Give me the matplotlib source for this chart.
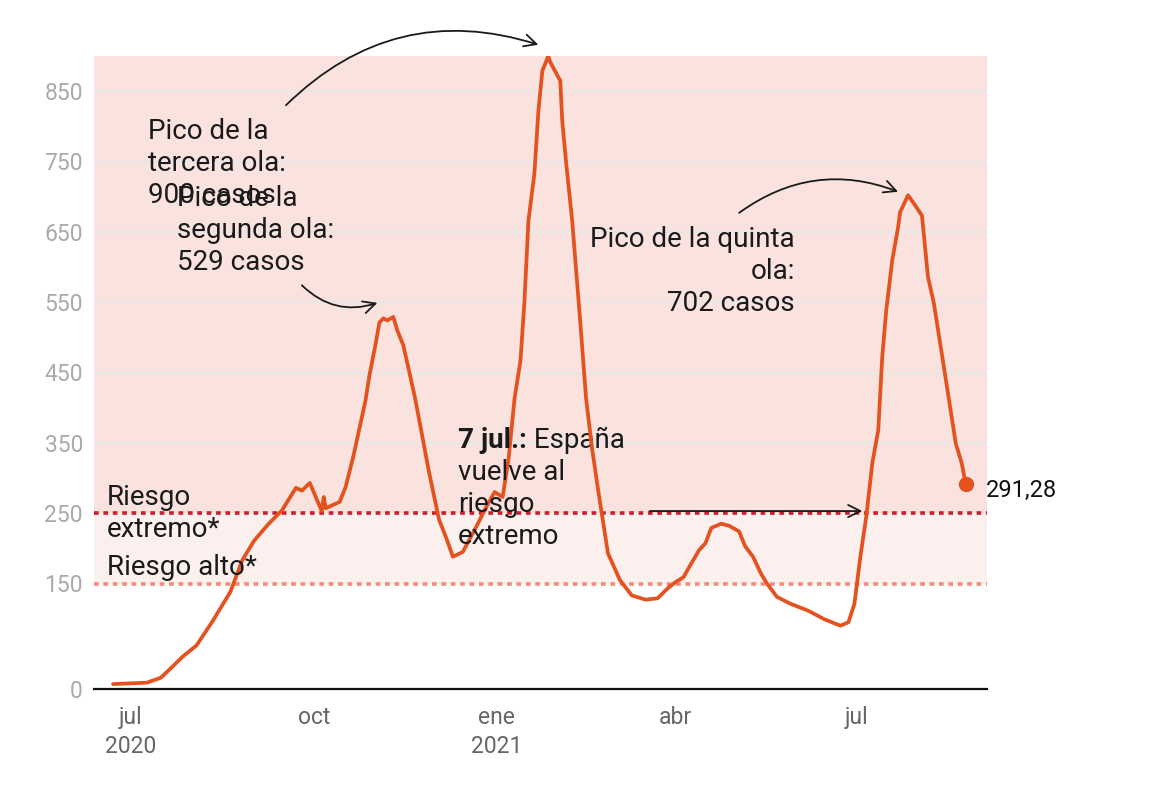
import pandas as pd
import matplotlib.pyplot as plt
import matplotlib.dates as mdates

plt.rcParams['font.family'] = ['Roboto', 'DejaVu Sans']

W, H = 1150, 796

# incidencia acumulada a 14 días (casos por 100.000 hab.)
fechas = [
    '2020-06-22', '2020-07-09', '2020-07-16', '2020-07-22', '2020-07-27', '2020-08-03',
    '2020-08-11', '2020-08-20', '2020-08-26', '2020-09-01', '2020-09-08', '2020-09-15',
    '2020-09-22', '2020-09-25', '2020-09-29', '2020-10-02', '2020-10-05', '2020-10-06',
    '2020-10-07', '2020-10-14', '2020-10-17', '2020-10-21', '2020-10-27', '2020-10-29',
    '2020-11-01', '2020-11-03', '2020-11-05', '2020-11-07', '2020-11-10', '2020-11-12',
    '2020-11-15', '2020-11-17', '2020-11-21', '2020-11-28', '2020-12-03', '2020-12-07',
    '2020-12-10', '2020-12-15', '2020-12-22', '2020-12-27', '2020-12-31', '2021-01-04',
    '2021-01-07', '2021-01-10', '2021-01-13', '2021-01-15', '2021-01-17', '2021-01-20',
    '2021-01-22', '2021-01-24', '2021-01-26', '2021-01-27', '2021-01-28', '2021-02-02',
    '2021-02-03', '2021-02-05', '2021-02-08', '2021-02-12', '2021-02-15', '2021-02-18',
    '2021-02-21', '2021-02-26', '2021-03-04', '2021-03-10', '2021-03-17', '2021-03-23',
    '2021-03-28', '2021-04-01', '2021-04-05', '2021-04-09', '2021-04-13', '2021-04-16',
    '2021-04-19', '2021-04-24', '2021-04-28', '2021-05-03', '2021-05-06', '2021-05-10',
    '2021-05-14', '2021-05-17', '2021-05-22', '2021-05-29', '2021-06-07', '2021-06-15',
    '2021-06-23', '2021-06-27', '2021-06-30', '2021-07-03', '2021-07-06', '2021-07-09',
    '2021-07-12', '2021-07-14', '2021-07-16', '2021-07-19', '2021-07-22', '2021-07-23',
    '2021-07-27', '2021-07-30', '2021-08-03', '2021-08-06', '2021-08-09', '2021-08-14',
    '2021-08-20', '2021-08-23', '2021-08-25',
]
casos = [
    7, 9, 16, 32, 46, 62,
    96, 138, 183, 211, 234, 254,
    286, 282, 293, 273, 253, 273,
    257, 266, 287, 332, 410, 446,
    489, 521, 527, 524, 529, 510,
    489, 464, 413, 308, 241, 212,
    188, 195, 232, 260, 280, 273,
    327, 413, 467, 552, 666, 733,
    822, 879, 893, 900, 891, 865,
    808, 747, 666, 524, 413, 342,
    284, 193, 155, 133, 127, 129,
    143, 152, 159, 179, 198, 207,
    229, 235, 232, 224, 203, 188,
    164, 150, 131, 121, 111, 99,
    90, 95, 121, 188, 246, 321,
    368, 472, 538, 609, 657, 678,
    702, 690, 673, 586, 548, 458,
    349, 321, 291.28,
]
ultimo = '291,28'

ticks_x = ['2020-07-01', '2020-10-01', '2021-01-01', '2021-04-01', '2021-07-01']
etiquetas_x = ['jul\n2020', 'oct', 'ene\n2021', 'abr', 'jul']
ticks_y = [0, 150, 250, 350, 450, 550, 650, 750, 850]
rejilla_y = [350, 450, 550, 650, 750, 850]
riesgo_extremo = 250
riesgo_alto = 150

fechas = pd.to_datetime(fechas)

NARANJA = '#e4521f'
fig = plt.figure(figsize=(W / 100, H / 100), dpi=100)
ax = fig.add_axes([94 / W, 1 - 689 / H, (987 - 94) / W, (689 - 56) / H])

# zonas de riesgo
ax.axhspan(riesgo_extremo, 900, color='#fae3df', lw=0, zorder=0)
ax.axhspan(riesgo_alto, riesgo_extremo, color='#fcf0ee', lw=0, zorder=0)
for y in rejilla_y:
    ax.axhline(y, color='#e6e6e6', lw=1.5, zorder=1)
ax.axhline(riesgo_extremo, color='#c8202f', lw=2.6, ls=(0, (1.3, 1.3)), zorder=2)
ax.axhline(riesgo_alto, color='#f58a76', lw=2.6, ls=(0, (1.3, 1.3)), zorder=2)

ax.plot(fechas, casos, color=NARANJA, lw=2.7, zorder=4,
        solid_joinstyle='round', solid_capstyle='round')
ax.plot(fechas[-1:], casos[-1:], 'o', color=NARANJA, ms=10, zorder=5)

ax.set_xlim(pd.Timestamp('2020-06-12 10:00'), pd.Timestamp('2021-09-04 17:00'))
ax.set_ylim(0, 900)
ax.set_xticks(pd.to_datetime(ticks_x))
ax.set_xticklabels(etiquetas_x, linespacing=1.35)
ax.set_yticks(ticks_y)
ax.tick_params(axis='x', length=0, pad=12, labelsize=16.5, labelcolor='#666666')
ax.tick_params(axis='y', length=0, pad=8, labelsize=16.5, labelcolor='#aaaaaa')
for s in ['top', 'right', 'left']:
    ax.spines[s].set_visible(False)
ax.spines['bottom'].set_linewidth(1.6)
ax.spines['bottom'].set_color('#111111')
ax.spines['bottom'].set_zorder(6)


def texto(lineas, x, y0, ha='left', paso=32, **kw):
    for i, linea in enumerate(lineas):
        fig.text(x / W, 1 - (y0 + i * paso) / H, linea, ha=ha, va='baseline',
                 fontsize=20, color='#1a1a1a', **kw)


texto(['Pico de la', 'tercera ola:', '900 casos'], 148, 139)
texto(['Pico de la', 'segunda ola:', '529 casos'], 177, 206)
texto(['Pico de la quinta', 'ola:', '702 casos'], 795, 247, ha='right')
texto(['Riesgo', 'extremo*'], 107, 505)
texto(['Riesgo alto*'], 107, 575)
negrita = fig.text(458 / W, 1 - 448 / H, '7 jul.:', ha='left', va='baseline',
                   fontsize=20, fontweight='bold', color='#1a1a1a')
ax.annotate(' España', xy=(1, 0), xycoords=negrita, ha='left', va='bottom',
            fontsize=20, color='#1a1a1a')
texto(['vuelve al', 'riesgo', 'extremo'], 458, 480)
fig.text(986 / W, 1 - 497 / H, ultimo, ha='left', va='baseline', fontsize=17, color='#111111')


def flecha(desde, hasta, rad):
    ax.annotate('', xy=(pd.Timestamp(hasta[0]), hasta[1]),
                xytext=(pd.Timestamp(desde[0]), desde[1]),
                arrowprops=dict(arrowstyle='->', connectionstyle=f'arc3,rad={rad}',
                                color='#1a1a1a', lw=1.3, shrinkA=0, shrinkB=0,
                                mutation_scale=22),
                annotation_clip=False, zorder=7)


flecha(('2020-09-17', 830), ('2021-01-22', 916), -0.3)
flecha(('2020-09-25', 574), ('2020-11-02', 549), 0.3)
flecha(('2021-05-03', 677), ('2021-07-22', 707), -0.27)
flecha(('2021-03-19', 253), ('2021-07-04', 253), 0)

fig.savefig('out.png', dpi=100, facecolor='white')
